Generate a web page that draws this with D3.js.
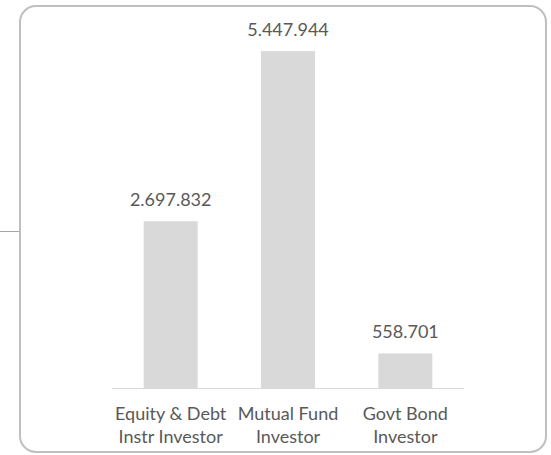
<!DOCTYPE html>
<html>
<head>
<meta charset="utf-8">
<script src="https://cdn.jsdelivr.net/npm/d3@7"></script>
<style>
  body { margin: 0; background: #fff; }
  svg { display: block; }
</style>
</head>
<body>
<div id="chart"></div>
<script>
// data
var categories = ["Equity & Debt|Instr Investor", "Mutual Fund|Investor", "Govt Bond|Investor"];
var values = [2697832, 5447944, 558701];
var valueLabels = ["2.697.832", "5.447.944", "558.701"];

var svgWidth = 551;
var svgHeight = 455;

var chartMargin = { top: 17, right: 87, bottom: 67, left: 112 };
var chartWidth = svgWidth - chartMargin.left - chartMargin.right;
var chartHeight = svgHeight - chartMargin.top - chartMargin.bottom;

var svg = d3.select("#chart")
  .append("svg")
    .attr("width", svgWidth)
    .attr("height", svgHeight);

// frame and connector line
svg.append("line")
  .attr("x1", 0).attr("x2", 20)
  .attr("y1", 231.5).attr("y2", 231.5)
  .style("stroke", "#a6a6a6")
  .style("stroke-width", 1);

svg.append("rect")
  .attr("x", 20).attr("y", 6)
  .attr("width", 526).attr("height", 446)
  .attr("rx", 16).attr("ry", 16)
  .style("fill", "#fff")
  .style("stroke", "#bfbfbf")
  .style("stroke-width", 2);

var g = svg.append("g")
  .attr("transform", "translate(" + chartMargin.left + "," + chartMargin.top + ")");

var x = d3.scaleBand()
  .domain(categories)
  .range([0, chartWidth])
  .paddingInner(0.54)
  .paddingOuter(0.27);

var y = d3.scaleLinear()
  .domain([0, 6000000])
  .range([chartHeight, 0]);

// bars
g.selectAll(".bar")
  .data(values)
  .enter()
  .append("rect")
    .attr("class", "bar")
    .attr("x", function (d, i) { return x(categories[i]); })
    .attr("width", x.bandwidth())
    .attr("y", function (d) { return y(d); })
    .attr("height", function (d) { return chartHeight - y(d); })
    .style("fill", "#d9d9d9");

// baseline
g.append("line")
  .attr("x1", 0).attr("x2", chartWidth)
  .attr("y1", chartHeight + 0.5).attr("y2", chartHeight + 0.5)
  .style("stroke", "#d9d9d9")
  .style("stroke-width", 1);

// value labels
g.selectAll(".val")
  .data(values)
  .enter()
  .append("text")
    .attr("class", "val")
    .attr("x", function (d, i) { return x(categories[i]) + x.bandwidth() / 2; })
    .attr("y", function (d) { return y(d) - 15; })
    .attr("text-anchor", "middle")
    .style("font-family", "Lato, 'Open Sans', sans-serif")
    .style("font-size", "18px")
    .style("fill", "#595959")
    .text(function (d, i) { return valueLabels[i]; });

// category labels
var cat = g.selectAll(".cat")
  .data(categories)
  .enter()
  .append("text")
    .attr("class", "cat")
    .attr("text-anchor", "middle")
    .attr("transform", function (d) {
      return "translate(" + (x(d) + x.bandwidth() / 2) + "," + (chartHeight + 32) + ")";
    })
    .style("font-family", "Lato, 'Open Sans', sans-serif")
    .style("font-size", "18px")
    .style("fill", "#595959");

cat.selectAll("tspan")
  .data(function (d) { return d.split("|"); })
  .enter()
  .append("tspan")
    .attr("x", 0)
    .attr("dy", function (d, i) { return i === 0 ? 0 : 23; })
    .text(function (d) { return d; });
</script>
</body>
</html>
